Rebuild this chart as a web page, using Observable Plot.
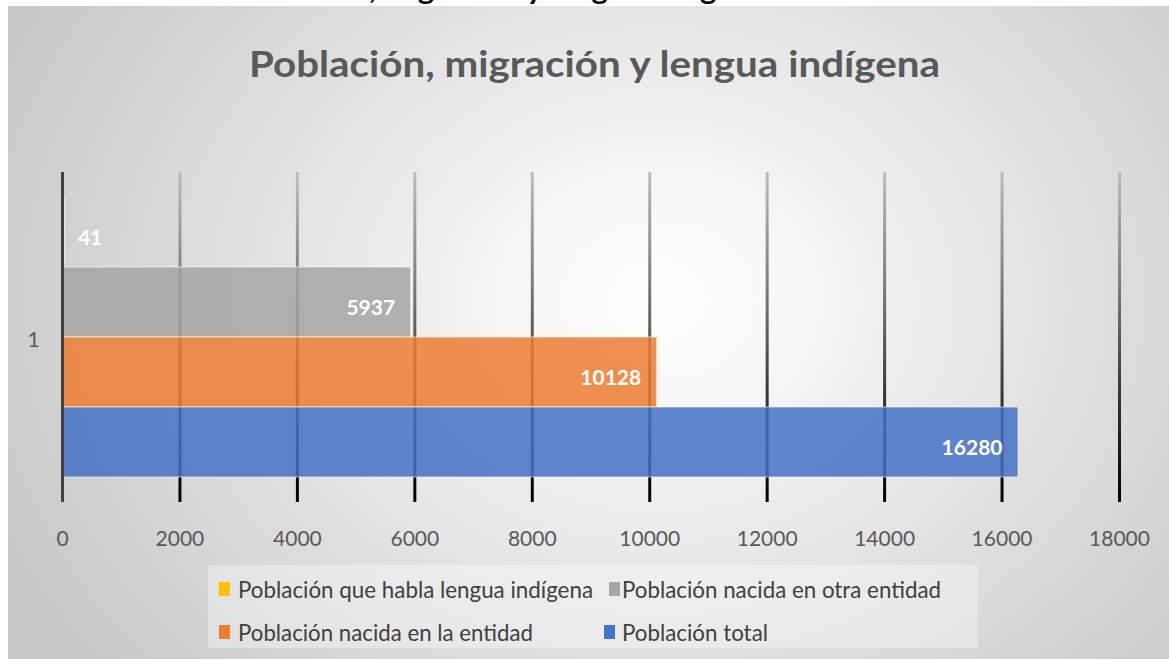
<!DOCTYPE html>
<html><head><meta charset="utf-8">
<script src="https://cdn.jsdelivr.net/npm/d3@7"></script>
<script src="https://cdn.jsdelivr.net/npm/@observablehq/plot@0.6"></script>
<style>
html,body{margin:0;padding:0;background:#fff;}
#wrap{position:relative;width:1169px;height:659px;overflow:hidden;background:#fff;font-family:Lato,"DejaVu Sans",sans-serif;}
#bg{position:absolute;left:8px;top:6px;right:0;bottom:0;
  background:radial-gradient(ellipse 62% 90% at 56% 45%, #ffffff 0%, #f6f6f6 20%, #e2e2e2 55%, #c8c8c8 100%);}
#cut{position:absolute;left:233px;top:-26px;font:bold 28px/28px Lato;color:#000;white-space:nowrap;transform-origin:0 0;}
#title{position:absolute;left:249px;top:44px;font:bold 37px/37px Lato;color:#595959;white-space:nowrap;transform-origin:0 0;}
#chart{position:absolute;left:0;top:150px;}
#legend{position:absolute;left:208px;top:565px;width:770px;height:83px;background:rgba(255,255,255,0.35);}
.item{position:absolute;font:23px/23px Lato;color:#404040;white-space:nowrap;transform-origin:0 0;}
.sw{position:absolute;width:11px;height:14px;}
</style></head>
<body>
<div id="wrap">
  <div id="bg"></div>
  <div id="cut">Población, migración y lengua indígena</div>
  <div id="title">Población, migración y lengua indígena</div>
  <div id="chart"></div>
  <div id="legend"></div>
</div>
<script>
const series = [
  "Población que habla lengua indígena",
  "Población nacida en otra entidad",
  "Población nacida en la entidad",
  "Población total"
];
const values = [41, 5937, 10128, 16280];
const colors = ["#FFC000", "#A5A5A5", "#ED7D31", "#4472C4"];
const xTicks = [0, 2000, 4000, 6000, 8000, 10000, 12000, 14000, 16000, 18000];
const categories = ["1"];

const data = series.map((s, i) => ({series: s, value: values[i]}));

const H = 410, MT = 22, MB = 58;
const plot = Plot.plot({
  width: 1169, height: H,
  marginLeft: 62, marginRight: 50, marginTop: MT, marginBottom: MB,
  style: {background: "transparent", fontFamily: "Lato, sans-serif", fontSize: "20px", color: "#595959", overflow: "visible"},
  x: {domain: [0, 18000], axis: null, label: null},
  y: {domain: series, paddingInner: 0, paddingOuter: 0.325, axis: null, label: null},
  color: {domain: series, range: colors},
  marks: [
    Plot.ruleX(xTicks.slice(1), {stroke: "url(#gridGrad)", strokeWidth: 3}),
    Plot.barX(data, {y: "series", x: "value", fill: "series", fillOpacity: 0.85, stroke: "#ffffff", strokeOpacity: 0.6, strokeWidth: 1}),
    Plot.ruleX([0], {stroke: "#404040", strokeWidth: 3}),
    Plot.text(data.filter(d => d.value >= 1000), {x: "value", y: "series", text: d => String(d.value), textAnchor: "end", dx: -16, dy: 6, fill: "#ffffff", fontWeight: "bold", fontSize: 21}),
    Plot.text(data.filter(d => d.value < 1000), {x: "value", y: "series", text: d => String(d.value), textAnchor: "start", dx: 13, dy: 6, fill: "#ffffff", fontWeight: "bold", fontSize: 21}),
    Plot.axisX({ticks: xTicks, tickSize: 0, tickPadding: 29, tickFormat: d => String(d), fontSize: 21, fill: "#595959", label: null}),
    Plot.text(categories, {frameAnchor: "left", dx: -29, dy: 3, textAnchor: "middle", fill: "#595959", fontSize: 21})
  ]
});

const defs = d3.select(plot).insert("defs", ":first-child");
const g = defs.append("linearGradient").attr("id", "gridGrad")
  .attr("gradientUnits", "userSpaceOnUse")
  .attr("x1", 0).attr("x2", 0).attr("y1", MT).attr("y2", H - MB);
[[0, "#bdbdbd"], [0.35, "#7a7a7a"], [0.65, "#3a3a3a"], [1, "#000000"]].forEach(([o, c]) =>
  g.append("stop").attr("offset", o).attr("stop-color", c));

document.getElementById("chart").appendChild(plot);

// legend
const legend = document.getElementById("legend");
const legPos = [
  {sx: 11, sy: 17, tx: 30, ty: 13, w: 355},
  {sx: 401, sy: 17, tx: 414, ty: 13, w: 319},
  {sx: 11, sy: 60, tx: 30, ty: 56, w: 295},
  {sx: 396, sy: 60, tx: 414, ty: 56, w: 146}
];
series.forEach((s, i) => {
  const p = legPos[i];
  const sw = document.createElement("div");
  sw.className = "sw";
  sw.style.left = p.sx + "px"; sw.style.top = p.sy + "px";
  sw.style.background = colors[i];
  legend.appendChild(sw);
  const t = document.createElement("div");
  t.className = "item";
  t.style.left = p.tx + "px"; t.style.top = p.ty + "px";
  t.textContent = s;
  legend.appendChild(t);
  const r = t.getBoundingClientRect().width;
  t.style.transform = `scaleX(${p.w / r})`;
});

function fit(id, w) {
  const el = document.getElementById(id);
  const r = el.getBoundingClientRect().width;
  el.style.transform = `scaleX(${w / r})`;
}
fit("title", 691);
fit("cut", 533);
</script>
</body></html>
